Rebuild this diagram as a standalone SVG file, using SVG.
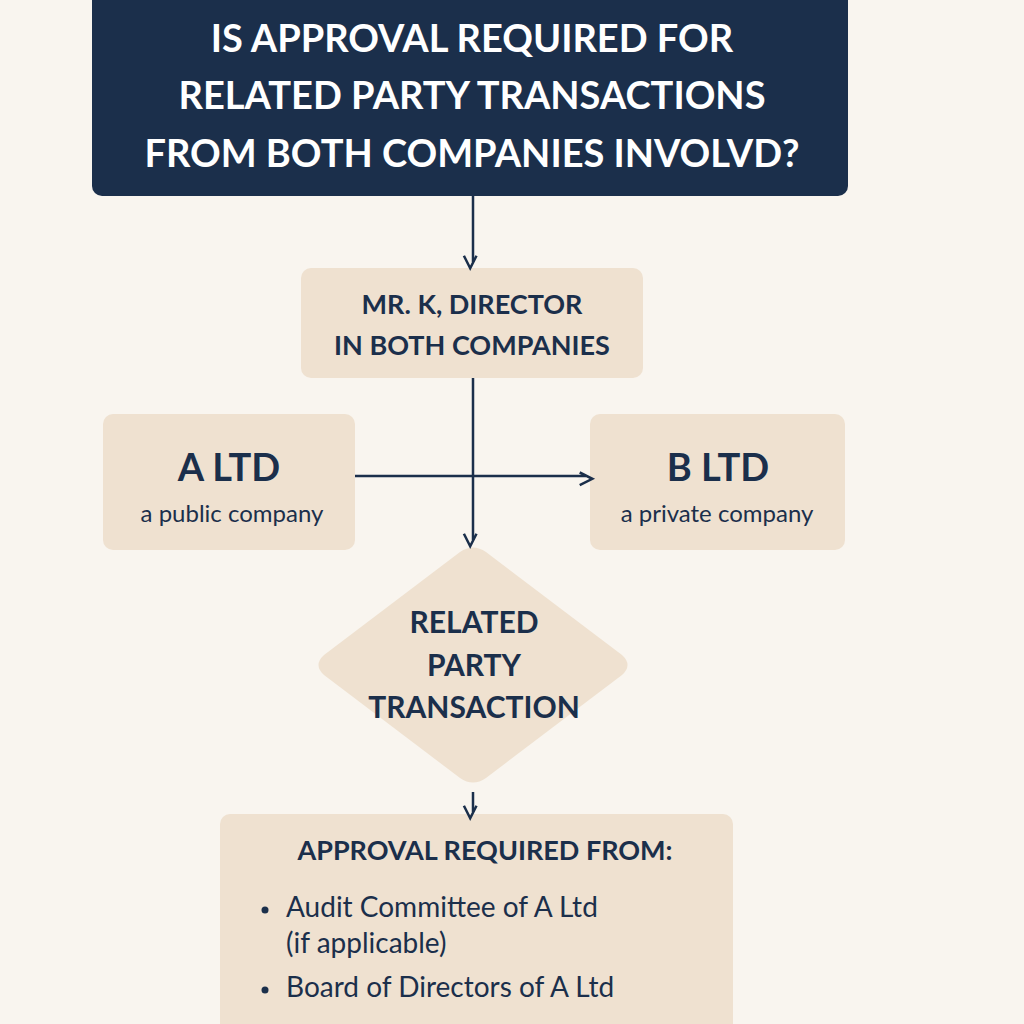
<svg xmlns="http://www.w3.org/2000/svg" width="1024" height="1024" viewBox="0 0 1024 1024">
<style>
.box{fill:#efe1d0}
.h{font-family:"Lato","Liberation Sans",sans-serif;font-weight:bold;fill:#1b2f4b;text-anchor:middle}
.r{font-family:"Lato","Liberation Sans",sans-serif;fill:#1b2f4b}
.ln{stroke:#1b2f4b;stroke-width:2.5;fill:none}
</style>
<defs><marker id="ar" viewBox="0 0 10 10" refX="9" refY="5" markerWidth="7" markerHeight="7" orient="auto" markerUnits="userSpaceOnUse" style="overflow:visible"><path d="M0,0 L10,5 L0,10" fill="none" stroke="#1b2f4b" stroke-width="2" transform="scale(1.8)" /></marker></defs>
<rect width="1024" height="1024" fill="#f9f5ef"/>
<g id="title"><rect x="92" y="-20" width="756" height="216" rx="10" fill="#1b2f4b"/>
<text class="h" fill="#fff" style="fill:#fff" font-size="38" x="472" y="52">IS APPROVAL REQUIRED FOR</text>
<text class="h" style="fill:#fff" font-size="38" x="472" y="109">RELATED PARTY TRANSACTIONS</text>
<text class="h" style="fill:#fff" font-size="38" x="472" y="167">FROM BOTH COMPANIES INVOLVD?</text></g>
<g id="mrk"><rect class="box" x="301" y="268" width="342" height="110" rx="10"/>
<text class="h" font-size="27" x="472" y="314">MR. K, DIRECTOR</text>
<text class="h" font-size="27" x="472" y="355">IN BOTH COMPANIES</text></g>
<g id="altd"><rect class="box" x="103" y="414" width="252" height="136" rx="10"/>
<text class="h" font-size="38" x="229" y="481">A LTD</text>
<text class="r" font-size="24" x="232" y="522" text-anchor="middle">a public company</text></g>
<g id="bltd"><rect class="box" x="590" y="414" width="255" height="136" rx="10"/>
<text class="h" font-size="38" x="718" y="481">B LTD</text>
<text class="r" font-size="24" x="717" y="522" text-anchor="middle">a private company</text></g>
<g id="rpt"><path class="box" d="M460,552 Q473,543 486,552 L622,655 Q633,665 622,675 L486,778 Q473,787 460,778 L324,675 Q313,665 324,655 Z"/>
<text class="h" font-size="30" x="474" y="633">RELATED</text>
<text class="h" font-size="30" x="474" y="676">PARTY</text>
<text class="h" font-size="30" x="474" y="718">TRANSACTION</text></g>
<g id="approval"><rect class="box" x="220" y="814" width="513" height="230" rx="10"/>
<text class="h" font-size="27" x="485" y="860">APPROVAL REQUIRED FROM:</text>
<circle cx="265" cy="910" r="3.5" fill="#1b2f4b"/>
<text class="r" font-size="28" x="286" y="917">Audit Committee of A Ltd</text>
<text class="r" font-size="28" x="286" y="953">(if applicable)</text>
<circle cx="265" cy="990" r="3.5" fill="#1b2f4b"/>
<text class="r" font-size="28" x="286" y="997">Board of Directors of A Ltd</text></g>
<g id="connectors">
<line class="ln" x1="473" y1="196" x2="473" y2="262" marker-end="url(#ar)"/>
<line class="ln" x1="473" y1="378" x2="473" y2="540" marker-end="url(#ar)"/>
<line class="ln" x1="355" y1="476" x2="586" y2="476" marker-end="url(#ar)"/>
<line class="ln" x1="473" y1="792" x2="473" y2="812" marker-end="url(#ar)"/>
</g>
</svg>
